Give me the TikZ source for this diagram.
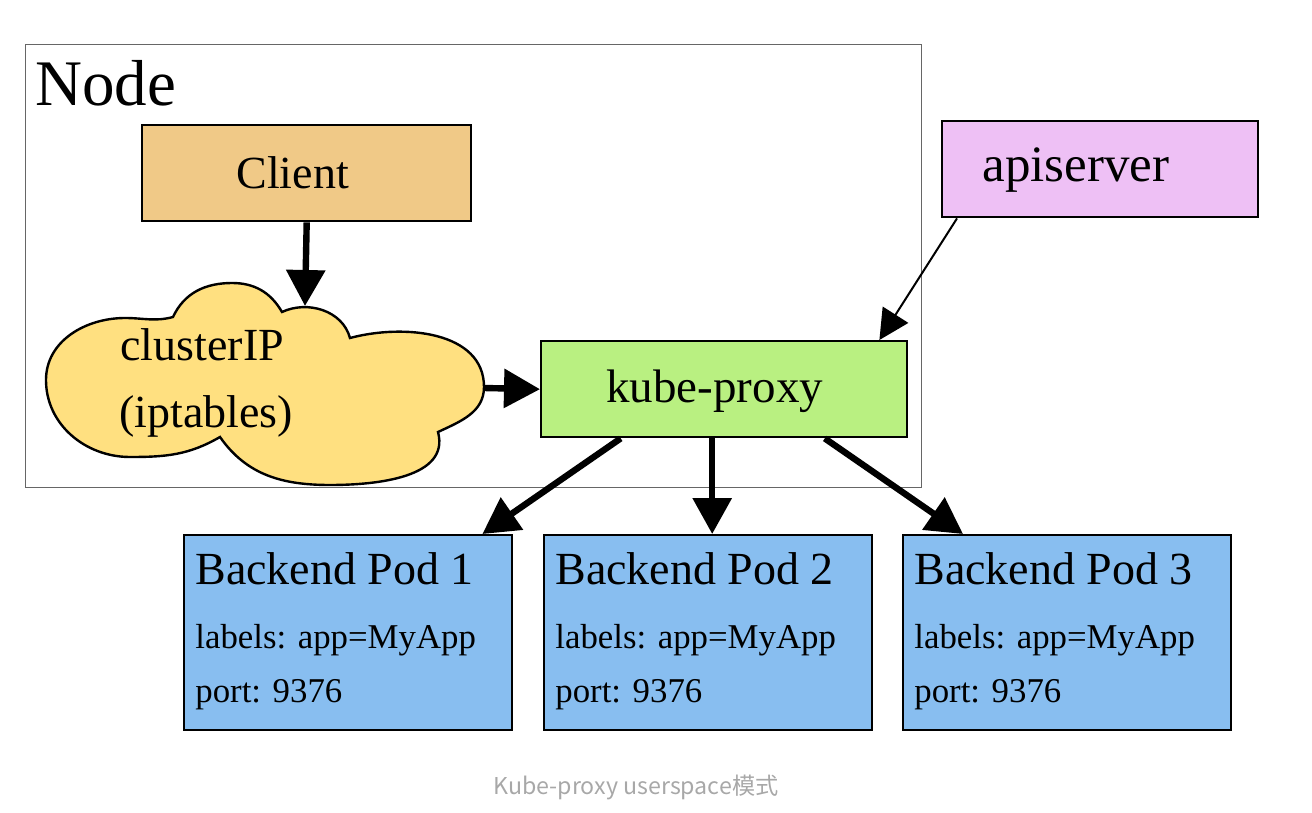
\documentclass[tikz,border=0pt]{standalone}
\usepackage{fontspec}
\setmainfont{Liberation Serif}
\newfontfamily\capfont{Noto Sans CJK SC}
\usetikzlibrary{arrows.meta,calc}
\definecolor{clientfill}{HTML}{F0C987}
\definecolor{cloudfill}{HTML}{FFE080}
\definecolor{kubefill}{HTML}{B9F081}
\definecolor{apifill}{HTML}{EEC0F5}
\definecolor{podfill}{HTML}{88BEF0}
\definecolor{capgray}{HTML}{A8A8A8}
\tikzset{
  box/.style={draw=black, line width=1.2pt, inner sep=0pt, anchor=north west},
  txt/.style={inner sep=0pt, anchor=base west},
  thick arrow/.style={line width=3.2pt, -{Triangle[length=18pt,width=19pt]}},
  thin arrow/.style={line width=1pt, -{Triangle[length=15pt,width=15pt]}},
}
\begin{document}
\begin{tikzpicture}[x=0.5pt,y=-0.5pt]
\useasboundingbox (0,0) rectangle (1312,813);
% outer Node frame
\node[draw=gray!80!black, line width=0.7pt, inner sep=0pt, anchor=north west,
      minimum width=448pt, minimum height=221.5pt] (frame) at (25,44) {};
\node[txt, font=\fontsize{32.5}{36}\selectfont] (nodelbl) at (35,105) {Node};
% Client
\node[box, fill=clientfill, minimum width=164.5pt, minimum height=48pt] (client) at (141,124) {};
\node[txt, font=\fontsize{23}{27}\selectfont] (clienttxt) at (236,188) {Client};
% apiserver
\node[box, fill=apifill, minimum width=158pt, minimum height=48pt] (api) at (941,120) {};
\node[txt, font=\fontsize{25.5}{29}\selectfont] (apitxt) at (982,182) {apiserver};
% kube-proxy
\node[box, fill=kubefill, minimum width=183pt, minimum height=48pt] (kube) at (540,340) {};
\node[txt, font=\fontsize{23.5}{27}\selectfont] (kubetxt) at (606,402) {kube-proxy};
% cloud
\draw[line width=1.2pt, fill=cloudfill]
  (173,317) to[out=65,in=180] (232,283) to[out=0,in=120] (282,312)
  to[out=25,in=105] (350,338)
  to[out=15,in=90] (484,387) to[out=-90,in=25] (438,432)
  to[out=-75,in=0] (330,485) to[out=180,in=-55] (220,437)
  to[out=-150,in=0] (130,457) to[out=180,in=-90] (46,380)
  to[out=90,in=180] (125,318) to[out=0,in=195] cycle;
\coordinate (cloudtop) at (305,306);
\coordinate (cloudright) at (484,388);
\node[txt, font=\fontsize{23}{27}\selectfont] (cl1) at (120,360) {clusterIP};
\node[txt, font=\fontsize{23}{27}\selectfont] (cl2) at (119,427) {(iptables)};
% pods
\foreach \i/\x in {1/183, 2/543, 3/902}{
  \node[box, fill=podfill, minimum width=164pt, minimum height=97.5pt] (pod\i) at (\x,534) {};
  \node[txt, font=\fontsize{23}{27}\selectfont] (podt\i) at (\x+12,584) {Backend Pod \i};
  \node[txt, font=\fontsize{17.4}{21}\selectfont] (podl\i) at (\x+12,648) {labels: app=MyApp};
  \node[txt, font=\fontsize{17.4}{21}\selectfont] (podp\i) at (\x+12,702) {port: 9376};
}
% arrows
\draw[thick arrow] (client.south) -- (cloudtop);
\draw[thick arrow] (cloudright) -- (kube.west);
\draw[thin arrow] ($(api.south west)+(16,0)$) -- ($(kube.north east)+(-29,0)$);
\draw[thick arrow] ($(kube.south west)!0.219!(kube.south east)$) -- ($(pod1.north east)+(-31,0)$);
\draw[thick arrow] ($(kube.south -| pod2.north)+(4,0)$) -- ($(pod2.north)+(4,0)$);
\draw[thick arrow] ($(kube.south west)!0.773!(kube.south east)$) -- ($(pod3.north west)+(61,0)$);
% caption
\node[inner sep=0pt, anchor=base, text=capgray, font=\capfont\fontsize{11.6}{14}\selectfont] (cap) at (636,794) {Kube-proxy userspace模式};
\end{tikzpicture}
\end{document}
